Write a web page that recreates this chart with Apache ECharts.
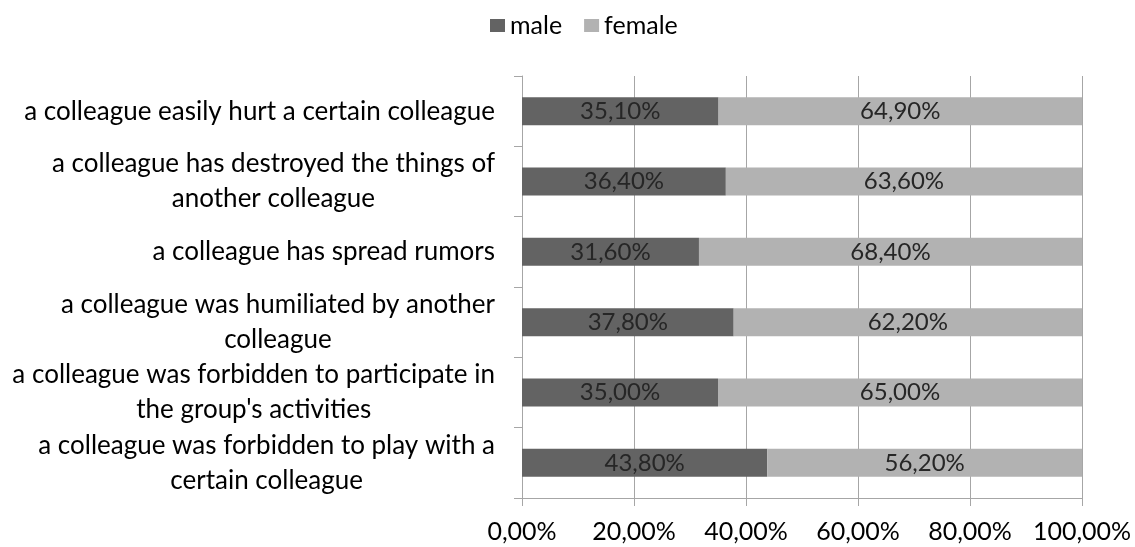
<!DOCTYPE html>
<html>
<head>
<meta charset="utf-8">
<script src="https://cdn.jsdelivr.net/npm/echarts@6/dist/echarts.min.js"></script>
<style>
  html, body { margin: 0; padding: 0; background: #ffffff; }
  #chart { width: 1135px; height: 547px; }
</style>
</head>
<body>
<div id="chart"></div>
<script>
// Categories, top to bottom (wrapped lines separated by \n)
const categories = [
  'a colleague easily hurt a certain colleague',
  'a colleague has destroyed the things of\nanother colleague',
  'a colleague has spread rumors',
  'a colleague was humiliated by another\ncolleague',
  'a colleague was forbidden to participate in\nthe group\'s activities',
  'a colleague was forbidden to play with a\ncertain colleague'
];
const seriesNames = ['male', 'female'];
const maleValues = [35.1, 36.4, 31.6, 37.8, 35.0, 43.8];
const femaleValues = [64.9, 63.6, 68.4, 62.2, 65.0, 56.2];
const xTicks = [0, 20, 40, 60, 80, 100];

const FONT = 'Lato, "Open Sans", sans-serif';
const pct = v => Number(v).toFixed(2).replace('.', ',') + '%';

const chart = echarts.init(document.getElementById('chart'), null, { renderer: 'canvas' });

const barLabel = {
  show: true,
  position: 'inside',
  formatter: p => pct(p.value),
  fontFamily: FONT,
  fontSize: 24,
  color: '#262626'
};

chart.setOption({
  animation: false,
  backgroundColor: '#ffffff',
  color: ['#636363', '#b2b2b2'],
  legend: {
    data: seriesNames,
    top: 8,
    left: 485,
    icon: 'rect',
    itemWidth: 15,
    itemHeight: 13,
    itemGap: 22,
    textStyle: { fontFamily: FONT, fontSize: 25, color: '#000000' }
  },
  grid: { left: 522, right: 53, top: 76, bottom: 49, containLabel: false },
  xAxis: {
    type: 'value',
    min: xTicks[0],
    max: xTicks[xTicks.length - 1],
    interval: xTicks[1] - xTicks[0],
    axisLine: { show: true, lineStyle: { color: '#a6a6a6', width: 1 } },
    axisTick: { show: true, length: 8, lineStyle: { color: '#a6a6a6' } },
    splitLine: { show: true, lineStyle: { color: '#a6a6a6', width: 1 } },
    axisLabel: {
      formatter: pct,
      fontFamily: FONT,
      fontSize: 25,
      color: '#000000',
      margin: 21
    }
  },
  yAxis: {
    type: 'category',
    data: categories,
    inverse: true,
    axisLine: { show: true, lineStyle: { color: '#a6a6a6', width: 1 } },
    axisTick: { show: true, length: 8, lineStyle: { color: '#a6a6a6' } },
    axisLabel: {
      margin: 27,
      formatter: v => v.split('\n').map(s => '{c|' + s + '}').join('\n'),
      rich: {
        c: { align: 'center', fontFamily: FONT, fontSize: 26, color: '#000000', lineHeight: 35 }
      }
    }
  },
  series: [
    {
      name: seriesNames[0],
      type: 'bar',
      stack: 'total',
      barWidth: 28,
      data: maleValues,
      label: barLabel
    },
    {
      name: seriesNames[1],
      type: 'bar',
      stack: 'total',
      barWidth: 28,
      data: femaleValues,
      label: barLabel
    }
  ]
});
</script>
</body>
</html>
